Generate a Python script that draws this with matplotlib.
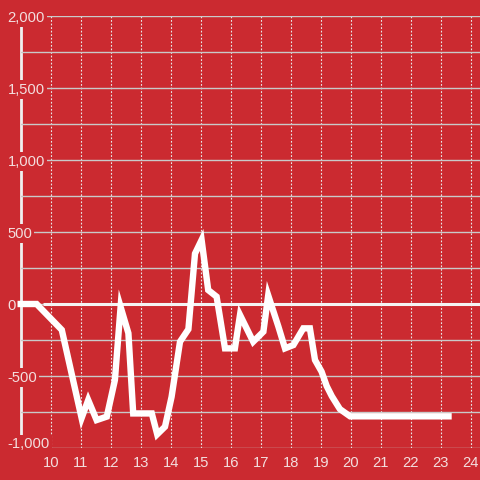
import matplotlib
matplotlib.use("Agg")
import matplotlib.pyplot as plt
from matplotlib.ticker import MultipleLocator, FuncFormatter

plt.rcParams["font.family"] = ["Liberation Sans", "DejaVu Sans"]

# ---- data ----
hours = [9.0, 9.53, 10.37, 11.03, 11.25, 11.53, 11.87, 12.14, 12.33, 12.59, 12.75,
         13.37, 13.55, 13.81, 14.03, 14.31, 14.59, 14.81, 15.03, 15.25, 15.53, 15.81,
         16.14, 16.31, 16.75, 17.09, 17.25, 17.59, 17.81, 18.09, 18.42, 18.64, 18.81,
         19.03, 19.2, 19.37, 19.64, 19.98, 23.26]
values = [0, 0, -180, -792, -667, -806, -782, -528, -20, -203, -760,
          -760, -905, -852, -644, -262, -175, 350, 445, 97, 51, -308,
          -308, -76, -262, -192, 60, -157, -308, -285, -169, -169, -389,
          -470, -570, -640, -730, -780, -780]
x_ticks = list(range(10, 25))
y_major = [-1000, -500, 0, 500, 1000, 1500, 2000]

# ---- style ----
RED = "#CB2A30"
TXT = "#F3DEDE"
GRID = "#C9C9C9"
XLIM = (9.0, 24.31)
YLIM = (-1000, 2000)
ZERO_LINE_START = 9.75

fig = plt.figure(figsize=(4.8, 4.8), dpi=100, facecolor=RED)
ax = fig.add_axes([20.7 / 480, 1 - 448 / 480, 1 - 20.7 / 480, 432 / 480])
ax.set_facecolor(RED)
ax.set_xlim(*XLIM)
ax.set_ylim(*YLIM)

for s in ["top", "right", "bottom"]:
    ax.spines[s].set_visible(False)
ax.spines["left"].set_color("#F0F0F0")
ax.spines["left"].set_linewidth(2.0)
ax.spines["left"].set_zorder(1)

ax.set_xticks(x_ticks)
ax.set_yticks(y_major)
ax.yaxis.set_minor_locator(MultipleLocator(250))
ax.yaxis.set_major_formatter(FuncFormatter(lambda v, p: f"{int(v):,}"))

ax.grid(axis="y", which="both", color=GRID, linewidth=1.0, linestyle="-")
ax.grid(axis="x", which="major", color="#E8E8E8", linewidth=0.8,
        linestyle=(0, (1.6, 1.6)))

ax.tick_params(axis="both", which="both", length=0)
ax.tick_params(axis="x", pad=6, labelsize=10.6, labelcolor=TXT)
ax.tick_params(axis="y", pad=9.5, labelsize=10.6, labelcolor=TXT)
ylabels = ax.get_yticklabels()
for lab in ylabels:
    lab.set_horizontalalignment("left")
    lab.set_bbox(dict(facecolor=RED, edgecolor="none", pad=1.5))
ylabels[0].set_verticalalignment("baseline")

ax.xaxis.set_zorder(2)
ax.yaxis.set_zorder(2)

ax.hlines(0, ZERO_LINE_START, XLIM[1], color="#F4F4F4", linewidth=2.2, zorder=3)
ax.plot(hours, values, color="white", linewidth=4.6, solid_capstyle="projecting",
        solid_joinstyle="miter", zorder=4, clip_on=False)

fig.savefig("out.png", dpi=100, facecolor=RED)
